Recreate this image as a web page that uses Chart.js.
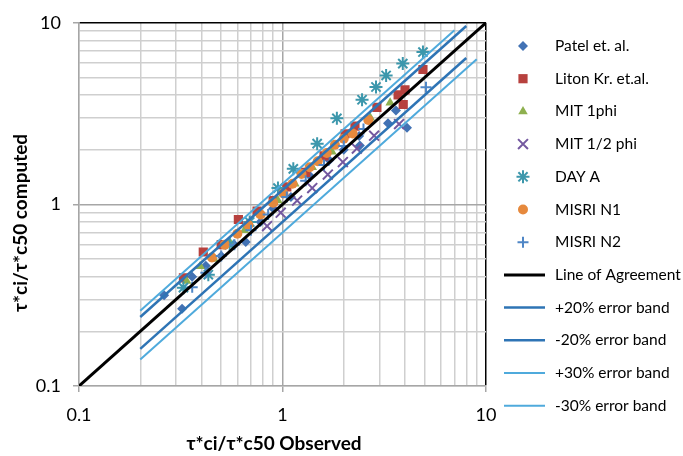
<!DOCTYPE html>
<html>
<head>
<meta charset="utf-8">
<script src="https://cdn.jsdelivr.net/npm/chart.js@4.4.1/dist/chart.umd.min.js"></script>
<style>
  body { margin: 0; background: #fff; }
  canvas { display: block; }
</style>
</head>
<body>
<canvas id="chart" width="683" height="456"></canvas>
<script>
// values (log-log, observed vs computed)
const patelX = [0.262, 0.321, 0.36, 0.42, 0.5, 0.58, 0.66, 0.78, 0.9, 1.1, 1.35, 1.7, 2.0, 2.38, 2.4, 3.3, 3.61, 4.09];
const patelY = [0.316, 0.266, 0.40, 0.46, 0.52, 0.6, 0.62, 0.8, 0.95, 1.1, 1.45, 1.75, 2.0, 2.38, 2.11, 2.8, 3.29, 2.64];

const litonX = [0.326, 0.408, 0.5, 0.607, 0.75, 0.9, 1.05, 1.3, 1.6, 2.03, 2.27, 2.91, 3.7, 3.92, 4.0, 4.9];
const litonY = [0.394, 0.547, 0.6, 0.826, 0.92, 1.05, 1.25, 1.5, 1.85, 2.45, 2.7, 3.42, 4.01, 3.55, 4.27, 5.53];

const mit1X = [0.338, 0.394, 0.46, 0.55, 0.65, 0.78, 0.95, 1.15, 1.4, 1.75, 2.2, 2.7, 3.38];
const mit1Y = [0.379, 0.457, 0.5, 0.62, 0.72, 0.88, 1.05, 1.3, 1.6, 1.95, 2.5, 3.0, 3.63];

const mitHalfX = [0.84, 0.98, 1.18, 1.4, 1.67, 1.98, 2.32, 2.82, 3.74];
const mitHalfY = [0.76, 0.9, 1.05, 1.23, 1.46, 1.71, 2.03, 2.39, 2.77];

const dayX = [0.326, 0.432, 0.55, 0.69, 0.95, 1.13, 1.48, 1.85, 2.46, 2.88, 3.23, 3.9, 4.9];
const dayY = [0.348, 0.41, 0.6, 0.8, 1.23, 1.57, 2.16, 2.98, 3.77, 4.43, 5.13, 5.96, 6.9];

const misri1X = [0.45, 0.52, 0.6, 0.68, 0.78, 0.9, 1.01, 1.12, 1.24, 1.36, 1.49, 1.65, 1.81, 2.0, 2.21, 2.64];
const misri1Y = [0.51, 0.6, 0.69, 0.77, 0.88, 1.02, 1.15, 1.3, 1.47, 1.6, 1.73, 1.92, 2.13, 2.3, 2.46, 2.92];

const misri2X = [0.36, 0.42, 0.5, 0.58, 0.7, 0.85, 1.05, 1.3, 1.6, 2.0, 2.5, 5.07];
const misri2Y = [0.35, 0.42, 0.52, 0.6, 0.72, 0.88, 1.1, 1.35, 1.65, 2.1, 2.6, 4.41];

const agreeX = [0.1, 10];
const agreeY = [0.1, 10];
const plus20X = [0.2, 8];
const plus20Y = [0.24, 9.6];
const minus20X = [0.2, 8];
const minus20Y = [0.16, 6.4];
const plus30X = [0.2, 7];
const plus30Y = [0.26, 9.1];
const minus30X = [0.2, 9];
const minus30Y = [0.14, 6.3];

const tickValues = [0.1, 0.2, 0.3, 0.4, 0.5, 0.6, 0.7, 0.8, 0.9, 1, 2, 3, 4, 5, 6, 7, 8, 9, 10];
const majorTicks = [0.1, 1, 10];

const pts = (xs, ys) => xs.map((x, i) => ({ x: x, y: ys[i] }));

const series = [
  { label: 'Patel et. al.', x: patelX, y: patelY, style: 'rectRot', color: '#4272B4', r: 5, bw: 0 },
  { label: 'Liton Kr. et.al.', x: litonX, y: litonY, style: 'rect', color: '#B7413E', r: 6.5, bw: 0 },
  { label: 'MIT 1phi', x: mit1X, y: mit1Y, style: 'triangle', color: '#8EB04F', r: 5.5, bw: 0 },
  { label: 'MIT 1/2 phi', x: mitHalfX, y: mitHalfY, style: 'crossRot', color: '#7458A0', r: 7, bw: 2 },
  { label: 'DAY A', x: dayX, y: dayY, style: 'star', color: '#3C97AC', r: 6.5, bw: 2 },
  { label: 'MISRI N1', x: misri1X, y: misri1Y, style: 'circle', color: '#E6893D', r: 5, bw: 0 },
  { label: 'MISRI N2', x: misri2X, y: misri2Y, style: 'cross', color: '#4F86C6', r: 5.5, bw: 2 },
];

const lines = [
  { label: 'Line of Agreement', x: agreeX, y: agreeY, color: '#000000', w: 3 },
  { label: '+20% error band', x: plus20X, y: plus20Y, color: '#2E74B5', w: 2.5 },
  { label: '-20% error band', x: minus20X, y: minus20Y, color: '#2E74B5', w: 2.5 },
  { label: '+30% error band', x: plus30X, y: plus30Y, color: '#4FAADC', w: 2 },
  { label: '-30% error band', x: minus30X, y: minus30Y, color: '#4FAADC', w: 2 },
];

const datasets = [];
series.forEach((s, i) => {
  datasets.push({
    label: s.label,
    data: pts(s.x, s.y),
    pointStyle: s.style,
    pointRadius: s.r,
    pointHoverRadius: s.r,
    backgroundColor: s.color,
    borderColor: s.color,
    pointBorderWidth: s.bw,
    showLine: false,
    order: 20 - i,
  });
});
lines.forEach((l, i) => {
  datasets.push({
    label: l.label,
    data: pts(l.x, l.y),
    borderColor: l.color,
    backgroundColor: l.color,
    borderWidth: l.w,
    pointRadius: 0,
    showLine: true,
    order: 10 - i,
  });
});

const isMajor = (v) => majorTicks.some((m) => Math.abs(m - v) < 1e-9);

function gridColor(ctx) {
  if (!ctx.tick) return '#D0D0D0';
  if (Math.abs(ctx.tick.value - 10) < 1e-9) return '#000000';
  if (Math.abs(ctx.tick.value - 1) < 1e-9) return '#A6A6A6';
  return '#CFCFCF';
}

function logAxis() {
  return {
    type: 'logarithmic',
    min: 0.1,
    max: 10,
    afterBuildTicks: (scale) => {
      scale.ticks = tickValues.map((v) => ({ value: v, major: isMajor(v) }));
    },
    grid: {
      color: gridColor,
      lineWidth: 1.5,
      tickLength: 6,
      tickColor: (ctx) => (ctx.tick && isMajor(ctx.tick.value) ? '#A6A6A6' : 'rgba(0,0,0,0)'),
    },
    border: { color: '#A6A6A6', width: 1.5 },
    ticks: {
      autoSkip: false,
      maxRotation: 0,
      color: '#000',
      font: { family: 'Lato', size: 18 },
      padding: 12,
      callback: (v) => (isMajor(v) ? String(v) : ''),
    },
  };
}

const xAxis = logAxis();
xAxis.afterFit = (scale) => { scale.height = 70; };
const yAxis = logAxis();
yAxis.afterFit = (scale) => { scale.width = 79; };

const legendAndTitles = {
  id: 'legendAndTitles',
  afterDraw(chart) {
    const c = chart.ctx;
    c.save();
    // axis titles
    c.fillStyle = '#000';
    c.font = 'bold 19px Lato';
    c.textAlign = 'center';
    c.textBaseline = 'middle';
    c.fillText('τ*ci/τ*c50 Observed', 274, 444);
    c.translate(21, 223);
    c.rotate(-Math.PI / 2);
    c.fillText('τ*ci/τ*c50 computed', 0, 0);
    c.restore();

    // legend
    c.save();
    c.font = '15.5px Lato';
    c.textAlign = 'left';
    c.textBaseline = 'middle';
    const items = series.concat(lines);
    items.forEach((it, i) => {
      const y = 46 + i * 32.7;
      if (it.style) {
        c.fillStyle = it.color;
        c.strokeStyle = it.color;
        c.lineWidth = it.bw;
        Chart.helpers.drawPoint(c, { pointStyle: it.style, radius: it.r, rotation: 0, borderWidth: it.bw }, 523, y);
      } else {
        c.strokeStyle = it.color;
        c.lineWidth = it.w;
        c.beginPath();
        c.moveTo(504, y);
        c.lineTo(545, y);
        c.stroke();
      }
      c.fillStyle = '#000';
      c.fillText(it.label, 555, y);
    });
    c.restore();
  },
};

new Chart(document.getElementById('chart').getContext('2d'), {
  type: 'scatter',
  data: { datasets: datasets },
  options: {
    responsive: false,
    animation: false,
    layout: { padding: { left: 0, top: 14, right: 197, bottom: 0 } },
    scales: { x: xAxis, y: yAxis },
    plugins: { legend: { display: false }, tooltip: { enabled: false } },
  },
  plugins: [legendAndTitles],
});
</script>
</body>
</html>
